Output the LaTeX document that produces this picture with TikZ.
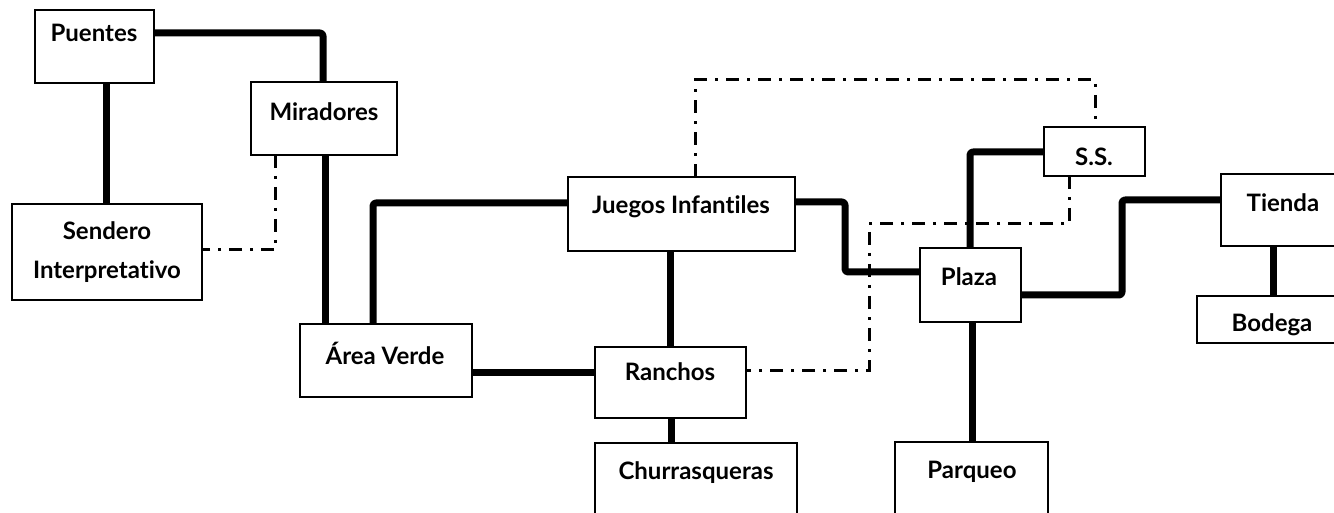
\documentclass[tikz,border=0pt]{standalone}
\usepackage{fontspec}
\setmainfont[Ligatures=NoCommon]{Lato}
\begin{document}
\begin{tikzpicture}[x=1pt,y=-1pt,
  box/.style={draw=black, line width=2pt, fill=white, inner sep=0pt, outer sep=0pt},
  txt/.style={font=\fontsize{24}{39}\selectfont\bfseries, inner sep=0pt, align=center},
  thick link/.style={line width=7pt, line join=round, rounded corners=3pt},
  dd link/.style={line width=3pt, dash pattern=on 13pt off 8pt on 3pt off 8pt}]
\useasboundingbox (0,0) rectangle (1334,513);
\clip (0,0) rectangle (1334,513);
% boxes
\node[box, minimum width=119pt, minimum height=73pt] (pu) at (94.5,46.5) {};
\node[box, minimum width=146pt, minimum height=73pt] (mi) at (324,118.5) {};
\node[box, minimum width=190pt, minimum height=96pt] (se) at (107,252) {};
\node[box, minimum width=227pt, minimum height=74pt] (jf) at (681.5,214) {};
\node[box, minimum width=172pt, minimum height=73pt] (av) at (386,360.5) {};
\node[box, minimum width=151pt, minimum height=71pt] (ra) at (670.5,382.5) {};
\node[box, minimum width=202pt, minimum height=97pt] (ch) at (696,491.5) {};
\node[box, minimum width=153pt, minimum height=98pt] (pa) at (971.5,491) {};
\node[box, minimum width=101pt, minimum height=74pt] (pl) at (970.5,285) {};
\node[box, minimum width=101pt, minimum height=49pt] (ss) at (1094.5,151.5) {};
\node[box, minimum width=129pt, minimum height=72pt] (ti) at (1285.5,210) {};
\node[box, minimum width=153pt, minimum height=47pt] (bo) at (1273.5,319.5) {};
% texts
\node[txt] (pu-t) at (94,33) {Puentes};
\node[txt] (mi-t) at (324,112) {Miradores};
\node[txt] (se-t) at (107,252) {Sendero\\Interpretativo};
\node[txt] (jf-t) at (681,207) {Juegos Infantiles};
\node[txt] (av-t) at (385,353) {Área Verde};
\node[txt] (ra-t) at (670,372) {Ranchos};
\node[txt] (ch-t) at (696,473) {Churrasqueras};
\node[txt] (pa-t) at (972,472) {Parqueo};
\node[txt] (pl-t) at (969,277) {Plaza};
\node[txt] (ss-t) at (1094,157) {S.S.};
\node[txt] (ti-t) at (1283,203) {Tienda};
\node[txt] (bo-t) at (1272,325) {Bodega};
% thick connectors
\draw[thick link] (pu.east |- 0,33) -| (mi.north -| 323,0);
\draw[thick link] (pu.south -| 106,0) -- (se.north -| 106,0);
\draw[thick link] (mi.south -| 325,0) -- (av.north -| 325,0);
\draw[thick link] (jf.west |- 0,203) -| (av.north -| 373,0);
\draw[thick link] (jf.east |- 0,202) -- (845,202) -- (845,272) -- (pl.west |- 0,272);
\draw[thick link] (jf.south -| 670,0) -- (ra.north -| 670,0);
\draw[thick link] (av.east |- 0,372) -- (ra.west |- 0,372);
\draw[thick link] (ra.south -| 671,0) -- (ch.north -| 671,0);
\draw[thick link] (pl.north -| 970,0) |- (ss.west |- 0,152);
\draw[thick link] (pl.east |- 0,295) -- (1122,295) -- (1122,200) -- (ti.west |- 0,200);
\draw[thick link] (pl.south -| 972,0) -- (pa.north -| 972,0);
\draw[thick link] (ti.south -| 1273,0) -- (bo.north -| 1273,0);
% dash-dot connectors
\draw[dd link] (mi.south -| 275,0) |- (se.east |- 0,250);
\draw[dd link] (jf.north -| 695,0) |- (1095,80) -- (ss.north -| 1095,0);
\draw[dd link] (ss.south -| 1069,0) |- (869,224) |- (ra.east |- 0,370);
\end{tikzpicture}
\end{document}
